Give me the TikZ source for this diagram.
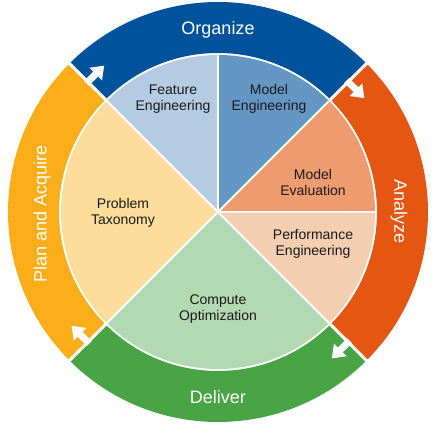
\documentclass[tikz,border=0pt]{standalone}
\usepackage{fontspec}
\setmainfont{Liberation Sans}
\definecolor{orgblue}{RGB}{0,82,155}
\definecolor{anaorange}{RGB}{228,86,17}
\definecolor{delgreen}{RGB}{72,164,68}
\definecolor{planyellow}{RGB}{251,174,26}
\definecolor{featblue}{RGB}{180,203,226}
\definecolor{modblue}{RGB}{101,151,196}
\definecolor{evalorange}{RGB}{238,155,112}
\definecolor{perfpeach}{RGB}{243,206,177}
\definecolor{compgreen}{RGB}{179,217,178}
\definecolor{probyellow}{RGB}{252,221,156}
\definecolor{labeltext}{RGB}{26,26,26}
\begin{document}
\begin{tikzpicture}[x=1pt,y=1pt,
  ringlabel/.style={text=white,inner sep=0pt,font=\fontsize{18}{20}\selectfont},
  slicelabel/.style={text=labeltext,align=center,inner sep=0pt,font=\fontsize{14}{16}\selectfont},
  gapline/.style={white,line width=3pt},
  sliceline/.style={white,line width=1.8pt},
  cycarrow/.style={white}]
\useasboundingbox (-218,-215) rectangle (215,212);

% outer ring: four phases
\def\rin{159}\def\rout{210}
\foreach \a/\b/\c in {45/135/orgblue,-45/45/anaorange,-135/-45/delgreen,135/225/planyellow}
  \fill[\c] (\a:\rin) arc[start angle=\a,end angle=\b,radius=\rin]
            -- (\b:\rout) arc[start angle=\b,end angle=\a,radius=\rout] -- cycle;

% inner pie: six activities
\def\rpie{157}
\foreach \a/\b/\c in {90/135/featblue,45/90/modblue,0/45/evalorange,-45/0/perfpeach,-135/-45/compgreen,135/225/probyellow}
  \fill[\c] (0,0) -- (\a:\rpie) arc[start angle=\a,end angle=\b,radius=\rpie] -- cycle;

% separators
\foreach \a in {45,135,225,315}
  \draw[gapline] (\a:\rpie) -- (\a:\rout+3);
\foreach \a in {0,45,90,135,225,315}
  \draw[sliceline] (0,0) -- (\a:\rpie);

% clockwise arrows between the phases
\foreach \a in {135,45,-45,-135}
  \fill[cycarrow,shift={(\a:184)},rotate=\a-90]
    (-2,-3.5) -- (11,-3.5) -- (11,-9) -- (23,0) -- (11,9) -- (11,3.5) -- (-2,3.5) -- cycle;

% phase labels
\node[ringlabel] (organize) at (0,182) {Organize};
\node[ringlabel,rotate=-90] (analyze) at (181,0) {Analyze};
\node[ringlabel] (deliver) at (0,-185) {Deliver};
\node[ringlabel,rotate=90] (plan) at (-176,-2) {Plan and Acquire};

% activity labels
\node[slicelabel] (feature) at (-45,113) {Feature\\Engineering};
\node[slicelabel] (model) at (51,113) {Model\\Engineering};
\node[slicelabel] (evaluation) at (95,29) {Model\\Evaluation};
\node[slicelabel] (performance) at (95,-32) {Performance\\Engineering};
\node[slicelabel] (compute) at (0,-97) {Compute\\Optimization};
\node[slicelabel] (taxonomy) at (-95,-1) {Problem\\Taxonomy};
\end{tikzpicture}
\end{document}
